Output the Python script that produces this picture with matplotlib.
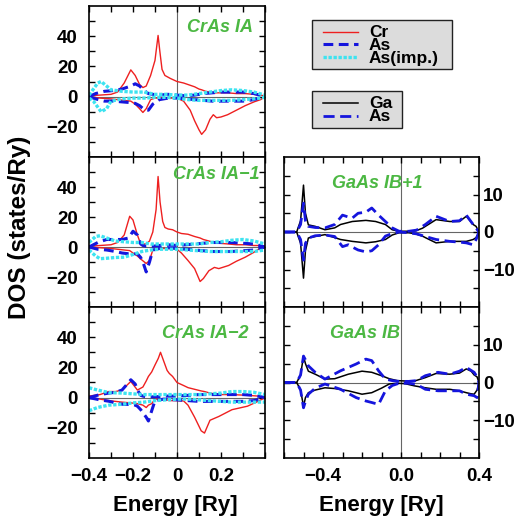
#DOS panels for CrAs / GaAs layers
#left column: Cr, As, As(imp.)  right column: Ga, As
import matplotlib
matplotlib.use('Agg')
import matplotlib.pyplot as plt
from matplotlib.patches import Rectangle
from matplotlib.lines import Line2D

plt.rcParams['font.family'] = ['Liberation Sans', 'DejaVu Sans']
plt.rcParams['font.weight'] = 'bold'

# ---------------- data ----------------
# CrAs IA
IA_CR_E = [-0.40, -0.35, -0.30, -0.27, -0.24, -0.21, -0.19, -0.17, -0.155, -0.14, -0.12, -0.10, -0.095, -0.086, -0.078,
           -0.068, -0.055, -0.03, 0.0, 0.03, 0.06, 0.08, 0.10, 0.112, 0.13, 0.15, 0.165, 0.18, 0.20, 0.23, 0.27, 0.31,
           0.35, 0.38, 0.40]
IA_CR_UP = [0.5, 1, 1.5, 3, 9, 17.7, 14, 8, 6, 7, 14, 24, 30, 40.5, 30, 18, 14, 12, 10, 9, 7.5, 6.5, 5, 4.5, 3.5, 3, 2.5,
            2.5, 2.5, 2.5, 2, 2, 1.5, 1, 0.3]
IA_CR_DN = [0, -1, -1.5, -2, -2.5, -3, -5, -8, -10.5, -8, -2, -1, -1, -1, -1, -1, -1, -1, -1, -3, -9, -16, -22, -25, -22,
            -15, -12, -14, -13.5, -12, -9, -6, -3.5, -2, 0]
IA_AS_E = [-0.40, -0.37, -0.33, -0.29, -0.25, -0.21, -0.19, -0.17, -0.15, -0.13, -0.11, -0.08, -0.04, 0.0, 0.04, 0.08,
           0.12, 0.16, 0.20, 0.25, 0.30, 0.35, 0.40]
IA_AS_UP = [0, 2, 3.5, 4, 5, 7, 8.5, 7, 4, 2, 1.5, 1, 1.5, 1, 0.5, 1, 2, 2.5, 3, 3, 3, 2, 0]
IA_AS_DN = [0, -1.5, -3, -3, -3.5, -4, -4.5, -6, -8.5, -9, -5, -2, -1, -1, -1.5, -2, -2.5, -3, -3, -3, -3, -2, 0]
IA_IMP_E = [-0.40, -0.38, -0.36, -0.345, -0.32, -0.30, -0.25, -0.20, -0.15, -0.10, -0.05, 0.0, 0.05, 0.10, 0.15, 0.20,
            0.25, 0.30, 0.35, 0.40]
IA_IMP_UP = [1, 5, 9, 10, 7, 4.5, 3.5, 3, 3, 1.5, 1.5, 1, 1, 2, 3, 4, 4.5, 4, 3, 1]
IA_IMP_DN = [-1, -3, -7, -10, -8, -3, -1.5, -1, -1, -0.5, -0.5, -1, -2, -2.5, -2.5, -2.5, -2.5, -2, -1.5, -0.5]

# CrAs IA-1
IA1_CR_E = [-0.40, -0.35, -0.30, -0.27, -0.24, -0.215, -0.20, -0.18, -0.165, -0.14, -0.125, -0.11, -0.095, -0.086,
            -0.077, -0.065, -0.055, -0.04, -0.02, 0.0, 0.02, 0.05, 0.08, 0.105, 0.12, 0.145, 0.17, 0.19, 0.235, 0.27,
            0.31, 0.35, 0.37, 0.40]
IA1_CR_UP = [0.5, 1, 1.5, 3, 8, 20.5, 18, 8, 2, 2, 4, 10, 25, 47, 30, 17, 13, 12, 11.5, 10, 9, 8.5, 7, 6, 5, 4, 3, 2.5,
             2, 1.5, 1.5, 1, 1, 0]
IA1_CR_DN = [0, -0.5, -1, -1.5, -2, -2.4, -4, -6, -8, -11, -9, -2, -1, -1, -1, -1, -1, -1, -1, -1.5, -4, -9, -14.4, -23,
             -21, -15.8, -13.6, -14.4, -12.3, -9.5, -6.8, -3.5, -1.5, 0]
IA1_AS_E = [-0.40, -0.36, -0.32, -0.28, -0.25, -0.22, -0.20, -0.18, -0.165, -0.155, -0.14, -0.125, -0.11, -0.08, -0.04,
            0.0, 0.04, 0.08, 0.12, 0.16, 0.20, 0.25, 0.30, 0.35, 0.40]
IA1_AS_UP = [0, 3, 5, 5, 5, 6, 10.5, 8, 2, 1, 0.5, 0.5, 0.5, 1, 1.5, 1, 1.5, 2, 2.5, 3, 3, 3, 2.5, 2, 0]
IA1_AS_DN = [0, -1.5, -2, -3, -4, -4.5, -4.5, -4.5, -7, -10, -16.6, -10, -2, -1, -0.5, -1, -1.5, -2, -2.5, -3, -3, -3,
             -2.5, -2, 0]
IA1_IMP_E = [-0.40, -0.37, -0.35, -0.32, -0.28, -0.24, -0.20, -0.16, -0.12, -0.08, -0.04, 0.0, 0.05, 0.10, 0.15, 0.20,
             0.25, 0.30, 0.35, 0.40]
IA1_IMP_UP = [3, 7, 7.5, 6, 4, 3.5, 3, 3, 2, 2, 2, 2, 2, 2, 3, 3.5, 4.5, 5, 4, 2]
IA1_IMP_DN = [-2, -6, -7.8, -7.5, -7, -6.8, -5, -3, -2, -1.5, -1.5, -1.5, -2, -2.5, -3, -3, -3, -3, -3, -2]

# CrAs IA-2
IA2_CR_E = [-0.40, -0.35, -0.31, -0.28, -0.25, -0.21, -0.18, -0.155, -0.14, -0.13, -0.115, -0.10, -0.085, -0.075,
            -0.055, -0.045, -0.035, -0.02, 0.0, 0.03, 0.05, 0.08, 0.11, 0.125, 0.15, 0.19, 0.25, 0.32, 0.37, 0.40]
IA2_CR_UP = [1, 2, 4, 4, 5, 10.7, 5, 7, 11, 14, 17, 21.6, 26, 30, 22, 18, 16, 14, 10, 8, 6.6, 5.5, 4.4, 4, 3, 2, 2, 1.5,
             1, 0]
IA2_CR_DN = [0, -1, -2, -2.5, -3, -3.5, -4, -5, -6.6, -5, -4, -1, -1, -1, -1.5, -1.5, -2, -2, -2, -2.2, -5, -13, -22,
             -23.5, -15, -12.5, -8, -5.7, -2.4, 0]
IA2_AS_E = [-0.40, -0.35, -0.31, -0.28, -0.25, -0.22, -0.21, -0.19, -0.18, -0.165, -0.155, -0.14, -0.13, -0.115, -0.10,
            -0.06, 0.0, 0.05, 0.10, 0.15, 0.20, 0.25, 0.30, 0.35, 0.40]
IA2_AS_UP = [0, 2, 3, 3.5, 5, 10, 11.8, 9, 5, 1.5, 1, 0.5, 0.5, 0.5, 0.5, 1, 1, 1.5, 2, 2, 2, 2, 2, 1.5, 0]
IA2_AS_DN = [0, -1.5, -2.4, -3.5, -4.4, -4.5, -4.5, -5, -5.7, -8, -10, -13, -15.5, -8.7, -2, -1, -1.5, -2, -2.5, -2.5,
             -2.5, -2.5, -2.5, -2, 0]
IA2_IMP_E = [-0.40, -0.36, -0.31, -0.25, -0.20, -0.15, -0.10, -0.05, 0.0, 0.05, 0.10, 0.15, 0.20, 0.25, 0.30, 0.35, 0.40]
IA2_IMP_UP = [6.5, 5, 3.3, 3, 2.5, 2, 2, 2, 2, 2, 2, 2.5, 3, 4, 4, 3.5, 2]
IA2_IMP_DN = [-8.7, -6.5, -5, -4.4, -3.5, -3, -2, -1.5, -1, -1, -1.5, -2, -2.5, -3, -3, -3, -3]

# GaAs IB+1
IB1_GA_E = [-0.60, -0.535, -0.515, -0.50, -0.49, -0.475, -0.44, -0.39, -0.34, -0.31, -0.25, -0.18, -0.13, -0.08, -0.045,
            -0.01, 0.04, 0.075, 0.11, 0.125, 0.18, 0.25, 0.30, 0.335, 0.37, 0.385, 0.40]
IB1_GA_UP = [0, 0, 3, 12.5, 5, 1.9, 1.5, 0.6, 1.1, 2, 2.8, 3.1, 2.8, 2, 0.6, 0.2, 0.2, 0.3, 1, 1.5, 3.3, 2.8, 2.8, 4.2,
             2, 1.5, 0]
IB1_GA_DN = [0, 0, -3, -12.3, -5, -1.6, -1.2, -0.7, -1.5, -2, -2.5, -2.9, -2.6, -2, -0.8, -0.2, -0.2, -0.5, -1.1, -1.5,
             -2.9, -2.5, -2.5, -2.5, -2, -1.5, 0]
IB1_AS_E = [-0.60, -0.535, -0.515, -0.50, -0.49, -0.475, -0.44, -0.39, -0.34, -0.30, -0.27, -0.25, -0.22, -0.18, -0.15,
            -0.115, -0.08, -0.045, -0.01, 0.04, 0.08, 0.125, 0.18, 0.25, 0.30, 0.335, 0.37, 0.385, 0.40]
IB1_AS_UP = [0, 0, 2, 7.7, 3, 1.5, 1.2, 1.1, 2, 4.5, 4, 3.7, 5, 5.3, 6.4, 4.5, 2.8, 1.1, 0.2, 0.2, 0.5, 2, 4.2, 2.8, 3,
             4.5, 2, 1, 0]
IB1_AS_DN = [0, 0, -2, -7.5, -3, -1.6, -1, -0.8, -1.2, -3.9, -3.4, -4, -4.8, -5.3, -5, -3.4, -1.1, -0.4, 0, -0.2, -0.5,
             -1.2, -2, -2.5, -2.7, -2.9, -3.4, -2, 0]

# GaAs IB
IB_GA_E = [-0.60, -0.535, -0.515, -0.50, -0.49, -0.475, -0.44, -0.39, -0.34, -0.27, -0.20, -0.15, -0.10, -0.06, -0.02,
           0.02, 0.07, 0.125, 0.18, 0.25, 0.30, 0.335, 0.36, 0.375, 0.39, 0.40]
IB_GA_UP = [0, 0, 2, 7, 5, 3, 2.2, 0.9, 1, 2.2, 3, 2.7, 1.8, 1, 0.5, 0.4, 0.4, 1.3, 2.4, 2.2, 2.5, 3.6, 3, 2, 1.5, 0]
IB_GA_DN = [0, 0, -2, -6.3, -4, -2.7, -2, -1.4, -1.6, -2.2, -3.1, -2.7, -1.5, -0.4, -0.2, -0.3, -0.9, -1.4, -1.8, -1.8,
            -2.2, -2.7, -3, -3.1, -2, 0]
IB_AS_E = [-0.60, -0.535, -0.515, -0.50, -0.49, -0.475, -0.44, -0.39, -0.31, -0.23, -0.18, -0.15, -0.115, -0.08, -0.045,
           -0.01, 0.04, 0.08, 0.125, 0.19, 0.25, 0.30, 0.335, 0.375, 0.39, 0.40]
IB_AS_UP = [0, 0, 2, 7, 6, 4.4, 2.7, 0.9, 3.1, 4.9, 6.2, 5.8, 3.1, 0.9, 0.5, 0.3, 0.3, 0.5, 1.8, 2.7, 2.2, 3, 4, 2.7,
            1.5, 0]
IB_AS_DN = [0, 0, -2, -6.7, -5, -3.1, -1.5, -0.4, -1.8, -4, -4.9, -5.3, -5.8, -2.2, -0.8, -0.2, -0.2, -0.5, -1.8, -2.2,
            -2.2, -2.2, -3.1, -3.5, -4, 0]

LEFT_LABELS = ['CrAs IA', 'CrAs IA\u22121', 'CrAs IA\u22122']
RIGHT_LABELS = ['GaAs IB+1', 'GaAs IB']
LEGEND_CR = ['Cr', 'As', 'As(imp.)']
LEGEND_GA = ['Ga', 'As']

# ---------------- styles ----------------
RED = '#ee2020'
BLUE = '#1515dd'
CYAN = '#3de3f0'
GREEN = '#4cb843'
sty_cr = dict(color=RED, lw=1.0)
sty_as = dict(color=BLUE, lw=2.2, linestyle=(0, (3.2, 1.8)))
sty_imp = dict(color=CYAN, lw=2.4, linestyle=(0, (1, 0.5)))
sty_ga = dict(color='black', lw=1.1)
sty_as2 = dict(color=BLUE, lw=2.0, linestyle=(0, (4, 2)))

W, H = 524, 522
fig = plt.figure(figsize=(W / 100, H / 100), dpi=100)


def box(x0, y0, x1, y1):
    # pixel box (top-left origin) -> figure fraction rect
    return [x0 / W, 1 - y1 / H, (x1 - x0) / W, (y1 - y0) / H]


def style_axes(ax):
    ax.tick_params(direction='in', length=4, width=1, top=True, right=True, labelsize=13.5)
    for s in ax.spines.values():
        s.set_linewidth(1.2)
    ax.axhline(0, color='#666666', lw=0.8, zorder=0)
    ax.axvline(0, color='#666666', lw=0.8, zorder=0)


# left column
left_boxes = [box(89, 6, 265, 157), box(89, 157, 265, 307), box(89, 307, 265, 458)]
left_data = [
    (IA_CR_E, IA_CR_UP, IA_CR_DN, IA_AS_E, IA_AS_UP, IA_AS_DN, IA_IMP_E, IA_IMP_UP, IA_IMP_DN),
    (IA1_CR_E, IA1_CR_UP, IA1_CR_DN, IA1_AS_E, IA1_AS_UP, IA1_AS_DN, IA1_IMP_E, IA1_IMP_UP, IA1_IMP_DN),
    (IA2_CR_E, IA2_CR_UP, IA2_CR_DN, IA2_AS_E, IA2_AS_UP, IA2_AS_DN, IA2_IMP_E, IA2_IMP_UP, IA2_IMP_DN),
]
label_pos = [(187, 27), (173, 175), (162, 333)]
for i, (rect, d) in enumerate(zip(left_boxes, left_data)):
    ax = fig.add_axes(rect)
    style_axes(ax)
    ce, cu, cd, ae, au, ad, ie, iu, idn = d
    ax.plot(ce, cu, **sty_cr)
    ax.plot(ce, cd, **sty_cr)
    ax.plot(ae, au, **sty_as)
    ax.plot(ae, ad, **sty_as)
    ax.plot(ie, iu, **sty_imp)
    ax.plot(ie, idn, **sty_imp)
    ax.set_xlim(-0.4, 0.4)
    ax.set_ylim(-40, 60)
    ax.set_yticks(range(-30, 60, 10))
    ax.set_yticklabels(['', '\u221220', '', '0', '', '20', '', '40', ''])
    ax.tick_params(axis='y', pad=8)
    ax.set_xticks([-0.4, -0.3, -0.2, -0.1, 0, 0.1, 0.2, 0.3, 0.4])
    if i == 2:
        ax.set_xticklabels(['\u22120.4', '', '\u22120.2', '', '0', '', '0.2', '', ''])
        ax.tick_params(axis='x', pad=7)
    else:
        ax.set_xticklabels([])
    lx, ly = label_pos[i]
    fig.text(lx / W, 1 - ly / H, LEFT_LABELS[i], color=GREEN, fontsize=13, fontweight='bold',
             fontstyle='italic', ha='left', va='center')

# right column
right_boxes = [box(284, 157, 479, 307), box(284, 307, 479, 458)]
right_data = [
    (IB1_GA_E, IB1_GA_UP, IB1_GA_DN, IB1_AS_E, IB1_AS_UP, IB1_AS_DN),
    (IB_GA_E, IB_GA_UP, IB_GA_DN, IB_AS_E, IB_AS_UP, IB_AS_DN),
]
rlabel_pos = [(332, 183), (330, 334)]
for i, (rect, d) in enumerate(zip(right_boxes, right_data)):
    ax = fig.add_axes(rect)
    style_axes(ax)
    ge, gu, gd, ae, au, ad = d
    ax.plot(ge, gu, **sty_ga)
    ax.plot(ge, gd, **sty_ga)
    ax.plot(ae, au, **sty_as2)
    ax.plot(ae, ad, **sty_as2)
    ax.set_xlim(-0.6, 0.4)
    ax.set_ylim(-20, 20)
    ax.set_yticks(range(-15, 20, 5))
    ax.set_yticklabels(['', '\u221210', '', '0', '', '10', ''])
    ax.tick_params(axis='y', labelleft=False, labelright=True, pad=3)
    ax.set_xticks([-0.6, -0.5, -0.4, -0.3, -0.2, -0.1, 0, 0.1, 0.2, 0.3, 0.4])
    if i == 1:
        ax.set_xticklabels(['', '', '\u22120.4', '', '', '', '0.0', '', '', '', '0.4'])
        ax.tick_params(axis='x', pad=7)
    else:
        ax.set_xticklabels([])
    lx, ly = rlabel_pos[i]
    fig.text(lx / W, 1 - ly / H, RIGHT_LABELS[i], color=GREEN, fontsize=13, fontweight='bold',
             fontstyle='italic', ha='left', va='center')

# axis titles
fig.text(20 / W, 1 - 227 / H, 'DOS (states/Ry)', rotation=90, fontsize=17.5, fontweight='bold',
         ha='center', va='center')
fig.text(175 / W, 1 - 505 / H, 'Energy [Ry]', fontsize=16, fontweight='bold', ha='center', va='center')
fig.text(381 / W, 1 - 505 / H, 'Energy [Ry]', fontsize=16, fontweight='bold', ha='center', va='center')

# legends drawn by hand (boxes in the upper right), entries stacked tightly as in the original
def legend_box(x0, y0, x1, y1, styles, labels, ys, bases):
    fig.patches.append(Rectangle((x0 / W, 1 - y1 / H), (x1 - x0) / W, (y1 - y0) / H, transform=fig.transFigure,
                                 facecolor='#dcdcdc', edgecolor='#222222', lw=1.0, zorder=1))
    for st, lab, yl, yb in zip(styles, labels, ys, bases):
        fig.lines.append(Line2D([323 / W, 358 / W], [1 - yl / H, 1 - yl / H], transform=fig.transFigure,
                                zorder=2, **st))
        fig.text(369 / W, 1 - yb / H, lab, fontsize=12.5, fontweight='bold', ha='left', va='baseline', zorder=3)


legend_box(312, 20, 452, 69, [sty_cr, sty_as, sty_imp], LEGEND_CR, [32, 44, 57], [37, 50, 63])
legend_box(312, 91, 402, 128, [sty_ga, sty_as2], LEGEND_GA, [103, 116], [108, 121])

fig.savefig('out.png', dpi=100)
